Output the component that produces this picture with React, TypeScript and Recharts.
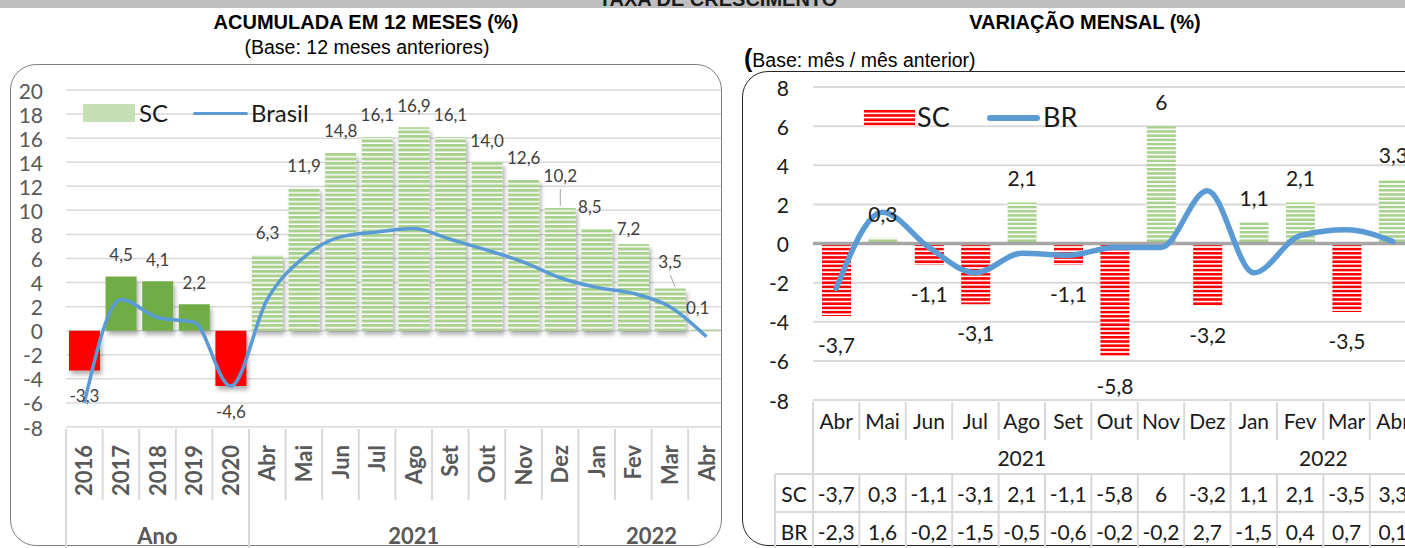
import React from "react";
import {
  Bar,
  CartesianGrid,
  Cell,
  ComposedChart,
  LabelList,
  Line,
  ReferenceLine,
  XAxis,
  YAxis,
} from "recharts";

// ---- data: accumulated 12 months (left) ----
const accCategories = ["2016", "2017", "2018", "2019", "2020", "Abr", "Mai", "Jun", "Jul", "Ago", "Set", "Out", "Nov", "Dez", "Jan", "Fev", "Mar", "Abr"];
const accSC = [-3.3, 4.5, 4.1, 2.2, -4.6, 6.3, 11.9, 14.8, 16.1, 16.9, 16.1, 14.0, 12.6, 10.2, 8.5, 7.2, 3.5, 0.1];
const accBrasil = [-6.0, 2.6, 1.1, 0.7, -4.6, 2.6, 6.1, 7.8, 8.2, 8.5, 7.6, 6.7, 5.7, 4.4, 3.6, 3.1, 2.0, -0.5];
const accGroups = [
  { label: "Ano", start: 0, end: 4 },
  { label: "2021", start: 5, end: 13 },
  { label: "2022", start: 14, end: 17 },
];
const accTicks = [20, 18, 16, 14, 12, 10, 8, 6, 4, 2, 0, -2, -4, -6, -8];

// ---- data: monthly variation (right) ----
const monCategories = ["Abr", "Mai", "Jun", "Jul", "Ago", "Set", "Out", "Nov", "Dez", "Jan", "Fev", "Mar", "Abr"];
const monSC = [-3.7, 0.3, -1.1, -3.1, 2.1, -1.1, -5.8, 6, -3.2, 1.1, 2.1, -3.5, 3.3];
const monBR = [-2.3, 1.6, -0.2, -1.5, -0.5, -0.6, -0.2, -0.2, 2.7, -1.5, 0.4, 0.7, 0.1];
const monGroups = [
  { label: "2021", start: 0, end: 8 },
  { label: "2022", start: 9, end: 12 },
];
const monTicks = [8, 6, 4, 2, 0, -2, -4, -6, -8];

const accData = accCategories.map((c, i) => ({ id: `a${i}`, cat: c, sc: accSC[i], br: accBrasil[i] }));
const monData = monCategories.map((c, i) => ({ id: `m${i}`, cat: c, sc: monSC[i], br: monBR[i] }));

const BLUE = "#5B9BD5";
const GRID = "#d9d9d9";
const CHART_FONT = "Lato, 'Open Sans', sans-serif";
const TITLE_FONT = "'Liberation Sans', Arial, sans-serif";

// left chart geometry
const L_W = 740;
const L_H = 548;
const L_MARGIN = { top: 90, right: 15.2, bottom: 0, left: 10 };
const L_YW = 56;
const L_XH = 121;
const L_BAND = (L_W - L_MARGIN.left - L_MARGIN.right - L_YW) / accCategories.length;

// right chart geometry
const R_W = 700;
const R_H = 548;
const R_MARGIN = { top: 87, right: 25.8, bottom: 0, left: 0 };
const R_YW = 71;
const R_XH = 148;
const R_BAND = (R_W - R_MARGIN.left - R_MARGIN.right - R_YW) / monCategories.length;

// small hand nudges for a few crowded labels on the left
const ACC_NUDGE: Record<number, { dx: number; dy: number; leader?: number }> = {
  13: { dx: 0, dy: -10, leader: 0 },
  14: { dx: -7, dy: 0 },
  15: { dx: -5, dy: 6 },
  16: { dx: 0, dy: -5, leader: 5 },
  17: { dx: -9, dy: 0 },
};

const fmt1 = (v: number) => v.toFixed(1).replace(".", ",");
const fmtN = (v: number) => String(v).replace(".", ",");

function AccYTick(props: any) {
  const { x, y, payload } = props;
  return (
    <text x={x} y={y} textAnchor="end" dominantBaseline="central" fontFamily={CHART_FONT} fontSize={21} fill="#595959">
      {payload.value}
    </text>
  );
}

function MonYTick(props: any) {
  const { x, y, payload } = props;
  return (
    <text x={x} y={y} textAnchor="end" dominantBaseline="central" fontFamily={CHART_FONT} fontSize={21} fill="#1a1a1a">
      {payload.value}
    </text>
  );
}

function AccXTick(props: any) {
  const { x, y, index } = props;
  const left = x - L_BAND / 2;
  const grp = accGroups.find((g) => g.start === index);
  const isLast = index === accCategories.length - 1;
  return (
    <g>
      <line x1={left} x2={left} y1={y + 2} y2={grp ? 560 : y + 73} stroke={GRID} strokeWidth={2} />
      {isLast && <line x1={x + L_BAND / 2} x2={x + L_BAND / 2} y1={y + 2} y2={560} stroke={GRID} strokeWidth={2} />}
      <text
        transform={`translate(${x + 8},${y + 18}) rotate(-90)`}
        textAnchor="end"
        fontFamily={CHART_FONT}
        fontWeight={700}
        fontSize={22}
        fill="#595959"
      >
        {accCategories[index]}
      </text>
      {grp && (
        <text
          x={x + ((grp.end - grp.start) * L_BAND) / 2}
          y={y + 108}
          textAnchor="middle"
          dominantBaseline="central"
          fontFamily={CHART_FONT}
          fontWeight={700}
          fontSize={22}
          fill="#595959"
        >
          {grp.label}
        </text>
      )}
    </g>
  );
}

function MonXTick(props: any) {
  const { x, y, index } = props;
  const left = x - R_BAND / 2;
  const grp = monGroups.find((g) => g.start === index);
  const rowSC = y + 93;
  const rowBR = y + 131;
  const txt = { fontFamily: CHART_FONT, fontSize: 21, fill: "#1a1a1a", textAnchor: "middle" as const, dominantBaseline: "central" as const };
  return (
    <g>
      <line x1={left} x2={left} y1={y + 2} y2={grp ? 560 : y + 40} stroke={GRID} strokeWidth={2} />
      {!grp && <line x1={left} x2={left} y1={y + 74} y2={560} stroke={GRID} strokeWidth={2} />}
      {index === 0 && (
        <g>
          <line x1={left - 38} x2={left + 700} y1={y + 74} y2={y + 74} stroke={GRID} strokeWidth={2} />
          <line x1={left - 38} x2={left + 700} y1={y + 112} y2={y + 112} stroke={GRID} strokeWidth={2} />
          <line x1={left - 38} x2={left - 38} y1={y + 74} y2={560} stroke={GRID} strokeWidth={2} />
          <text {...txt} x={left - 19} y={rowSC}>SC</text>
          <text {...txt} x={left - 19} y={rowBR}>BR</text>
        </g>
      )}
      <text {...txt} x={x} y={y + 20}>{monCategories[index]}</text>
      {grp && (
        <text {...txt} x={x + ((grp.end - grp.start) * R_BAND) / 2} y={y + 57}>
          {grp.label}
        </text>
      )}
      <text {...txt} x={x} y={rowSC}>{fmtN(monSC[index])}</text>
      <text {...txt} x={x} y={rowBR}>{fmtN(monBR[index])}</text>
    </g>
  );
}

function AccLabel(props: any) {
  const { x, y, width, height, value, index } = props;
  const top = Math.min(y, y + height);
  const bot = Math.max(y, y + height);
  const n = ACC_NUDGE[index] || { dx: 0, dy: 0 };
  const cx = x + width / 2;
  const ly = (value >= 0 ? top - 22 : bot + 25) + n.dy;
  return (
    <g>
      {n.leader !== undefined && (
        <line x1={cx + n.dx} y1={ly + 13} x2={cx + n.leader} y2={top - 2} stroke="#a6a6a6" strokeWidth={1} />
      )}
      <text x={cx + n.dx} y={ly} textAnchor="middle" dominantBaseline="central" fontFamily={CHART_FONT} fontSize={17} fill="#404040">
        {fmt1(value)}
      </text>
    </g>
  );
}

function MonLabel(props: any) {
  const { x, y, width, height, value } = props;
  const top = Math.min(y, y + height);
  const bot = Math.max(y, y + height);
  const ly = value >= 0 ? top - 24.5 : bot + 28.5;
  return (
    <text x={x + width / 2} y={ly} textAnchor="middle" dominantBaseline="central" fontFamily={CHART_FONT} fontSize={21} fill="#1a1a1a">
      {fmtN(value)}
    </text>
  );
}

function accFill(v: number, i: number) {
  if (v < 0) return "#ff0000";
  if (i < 5) return "#70ad47";
  return "url(#accStripe)";
}

function StripeDefs({ id, color, h, fillH }: { id: string; color: string; h: number; fillH: number }) {
  return (
    <pattern id={id} width={8} height={h} patternUnits="userSpaceOnUse">
      <rect width={8} height={h} fill="#ffffff" />
      <rect width={8} height={fillH} fill={color} />
    </pattern>
  );
}

export default function App() {
  return (
    <div style={{ position: "fixed", left: 0, top: 0, width: 1405, height: 548, background: "#fff", overflow: "hidden" }}>
      {/* top band */}
      <div style={{ position: "absolute", left: 0, top: 0, width: 1405, height: 8, background: "#bfbfbf", overflow: "hidden" }}>
        <div style={{ position: "absolute", left: 0, width: 1436, top: -11, textAlign: "center", fontFamily: TITLE_FONT, fontWeight: 700, fontSize: 20, lineHeight: "20px", color: "#1a1a1a" }}>
          TAXA DE CRESCIMENTO
        </div>
      </div>

      {/* titles */}
      <div style={{ position: "absolute", left: 0, width: 732, top: 11, textAlign: "center", fontFamily: TITLE_FONT, fontWeight: 700, fontSize: 20, lineHeight: "22px", color: "#000" }}>
        ACUMULADA EM 12 MESES (%)
      </div>
      <div style={{ position: "absolute", left: 0, width: 734, top: 36, textAlign: "center", fontFamily: TITLE_FONT, fontSize: 19.5, lineHeight: "22px", color: "#000" }}>
        (Base: 12 meses anteriores)
      </div>
      <div style={{ position: "absolute", left: 770, width: 630, top: 11, textAlign: "center", fontFamily: TITLE_FONT, fontWeight: 700, fontSize: 20, lineHeight: "22px", color: "#000" }}>
        VARIAÇÃO MENSAL (%)
      </div>
      <div style={{ position: "absolute", left: 744, top: 46, fontFamily: TITLE_FONT, fontSize: 19.5, lineHeight: "24px", color: "#000", whiteSpace: "nowrap" }}>
        <span style={{ fontSize: 25, fontWeight: 700 }}>(</span>Base: mês / mês anterior)
      </div>

      {/* frames */}
      <div style={{ position: "absolute", left: 10, top: 64, width: 712, height: 482, border: "1.5px solid #7f7f7f", borderRadius: 26, boxSizing: "border-box" }} />
      <div style={{ position: "absolute", left: 742, top: 71, width: 760, height: 475, border: "1.3px solid #262626", borderRadius: 26, boxSizing: "border-box" }} />

      {/* left chart */}
      <div style={{ position: "absolute", left: 0, top: 0, width: 721, height: 548, overflow: "hidden" }}>
        <ComposedChart width={L_W} height={L_H} data={accData} margin={L_MARGIN}>
          <defs>
            <StripeDefs id="accStripe" color="#a9d18e" h={4.5} fillH={3} />
            <filter id="barShadow" x="-20%" y="-20%" width="150%" height="150%">
              <feDropShadow dx={2} dy={4} stdDeviation={2} floodColor="#000" floodOpacity={0.3} />
            </filter>
          </defs>
          <CartesianGrid vertical={false} stroke={GRID} strokeWidth={1.5} />
          <XAxis dataKey="id" interval={0} height={L_XH} tick={<AccXTick />} tickLine={false} axisLine={false} tickSize={0} tickMargin={0} />
          <YAxis width={L_YW} domain={[-8, 20]} ticks={accTicks} interval={0} tick={<AccYTick />} tickLine={false} axisLine={false} tickSize={0} tickMargin={23} />
          <Bar dataKey="sc" barSize={31} isAnimationActive={false}>
            {accData.map((d, i) => (
              <Cell key={d.id} fill={accFill(d.sc, i)} filter="url(#barShadow)" />
            ))}
            <LabelList dataKey="sc" content={<AccLabel />} />
          </Bar>
          <Line type="monotone" dataKey="br" stroke={BLUE} strokeWidth={3.5} dot={false} activeDot={false} isAnimationActive={false} />
        </ComposedChart>
      </div>

      {/* left legend */}
      <div style={{ position: "absolute", left: 83, top: 104, width: 52, height: 18, background: "#c5e0b4" }} />
      <div style={{ position: "absolute", left: 139, top: 98, fontFamily: CHART_FONT, fontSize: 24, lineHeight: "30px", color: "#1a1a1a" }}>SC</div>
      <div style={{ position: "absolute", left: 193, top: 112, width: 55, height: 3, background: BLUE, borderRadius: 2 }} />
      <div style={{ position: "absolute", left: 251, top: 98, fontFamily: CHART_FONT, fontSize: 24, lineHeight: "30px", color: "#1a1a1a" }}>Brasil</div>

      {/* right chart */}
      <div style={{ position: "absolute", left: 742, top: 0 }}>
        <ComposedChart width={R_W} height={R_H} data={monData} margin={R_MARGIN}>
          <defs>
            <StripeDefs id="monPos" color="#a9d18e" h={4.2} fillH={2.6} />
            <StripeDefs id="monNeg" color="#ff0000" h={4.2} fillH={2.6} />
          </defs>
          <CartesianGrid vertical={false} stroke={GRID} strokeWidth={2} />
          <ReferenceLine y={0} stroke="#a6a6a6" strokeWidth={3.5} />
          <XAxis dataKey="id" interval={0} height={R_XH} tick={<MonXTick />} tickLine={false} axisLine={false} tickSize={0} tickMargin={0} />
          <YAxis width={R_YW} domain={[-8, 8]} ticks={monTicks} interval={0} tick={<MonYTick />} tickLine={false} axisLine={false} tickSize={0} tickMargin={24} />
          <Bar dataKey="sc" barSize={29} isAnimationActive={false}>
            {monData.map((d) => (
              <Cell key={d.id} fill={d.sc < 0 ? "url(#monNeg)" : "url(#monPos)"} />
            ))}
            <LabelList dataKey="sc" content={<MonLabel />} />
          </Bar>
          <Line type="monotone" dataKey="br" stroke={BLUE} strokeWidth={5.5} strokeLinecap="round" dot={false} activeDot={false} isAnimationActive={false} />
        </ComposedChart>
      </div>

      {/* right legend */}
      <svg style={{ position: "absolute", left: 864, top: 110 }} width={51} height={17}>
        <defs>
          <pattern id="legNeg" width={8} height={4.2} patternUnits="userSpaceOnUse">
            <rect width={8} height={4.2} fill="#fff" />
            <rect width={8} height={2.6} fill="#ff0000" />
          </pattern>
        </defs>
        <rect width={51} height={17} fill="url(#legNeg)" />
      </svg>
      <div style={{ position: "absolute", left: 917, top: 100, fontFamily: CHART_FONT, fontSize: 27, lineHeight: "34px", color: "#1a1a1a" }}>SC</div>
      <div style={{ position: "absolute", left: 987, top: 115, width: 53, height: 6, background: BLUE, borderRadius: 3 }} />
      <div style={{ position: "absolute", left: 1043, top: 100, fontFamily: CHART_FONT, fontSize: 27, lineHeight: "34px", color: "#1a1a1a" }}>BR</div>
    </div>
  );
}
